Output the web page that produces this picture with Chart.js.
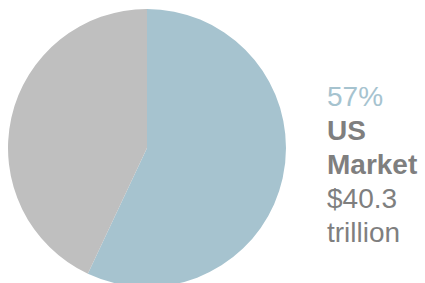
<!DOCTYPE html>
<html>
<head>
<meta charset="utf-8">
<script src="https://cdn.jsdelivr.net/npm/chart.js@4/dist/chart.umd.min.js"></script>
<style>
    html, body {
        margin: 0;
        padding: 0;
        width: 425px;
        height: 283px;
        overflow: hidden;
        background: #ffffff;
    }
    #pieBox {
        position: absolute;
        left: 8px;
        top: 9px;
        width: 278px;
        height: 278px;
    }
    #caption {
        position: absolute;
        left: 327px;
        top: 80px;
        font-family: "Liberation Sans", Arial, sans-serif;
        font-size: 28px;
        line-height: 34px;
        color: #7f7f7f;
    }
    #caption .pct { color: #a6c3cf; }
    #caption .bold { font-weight: bold; }
</style>
</head>
<body>
<div id="pieBox"><canvas id="pieChart"></canvas></div>
<div id="caption"></div>
<script>
    const sliceLabels = ["US Market", "Rest of World"];
    const sliceValues = [57, 43];
    const sliceColors = ["#a6c3cf", "#bfbfbf"];
    const captionLines = [
        { text: "57%", cls: "pct" },
        { text: "US", cls: "bold" },
        { text: "Market", cls: "bold" },
        { text: "$40.3", cls: "" },
        { text: "trillion", cls: "" }
    ];

    const caption = document.getElementById("caption");
    captionLines.forEach(line => {
        const div = document.createElement("div");
        div.textContent = line.text;
        if (line.cls) {
            div.className = line.cls;
        }
        caption.appendChild(div);
    });

    new Chart(document.getElementById("pieChart").getContext("2d"), {
        type: "pie",
        data: {
            labels: sliceLabels,
            datasets: [{
                data: sliceValues,
                backgroundColor: sliceColors,
                borderWidth: 0,
                hoverOffset: 0
            }]
        },
        options: {
            responsive: true,
            maintainAspectRatio: false,
            animation: false,
            layout: { padding: 0 },
            plugins: {
                legend: { display: false },
                tooltip: { enabled: false }
            }
        }
    });
</script>
</body>
</html>
